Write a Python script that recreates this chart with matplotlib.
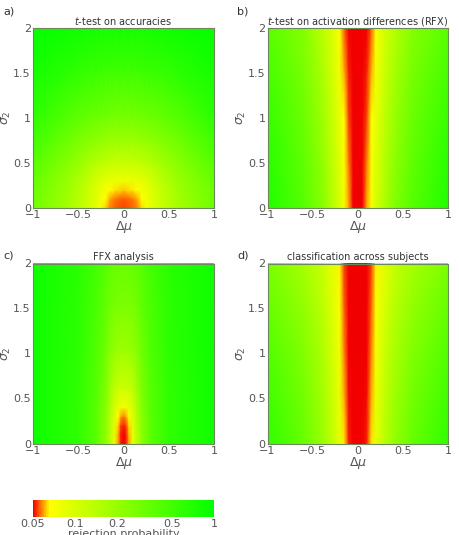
import numpy as np
import matplotlib
matplotlib.use("Agg")
import matplotlib.pyplot as plt
from matplotlib.colors import LinearSegmentedColormap, LogNorm

plt.rcParams['font.family'] = ['DejaVu Sans']
plt.rcParams['mathtext.fontset'] = 'dejavusans'

# ---------------- data: rejection probability (half grid, mu >= 0; mirrored) -------------
# a) t-test on accuracies
mu_a = [0, 0.1, 0.15, 0.2, 0.25, 0.3, 0.4, 0.6, 1.0]
sig_a = [0, 0.1, 0.2, 0.3, 0.5, 0.75, 1.0, 1.5, 2.0]
p_a = [
    [0.054, 0.056, 0.058, 0.063, 0.072, 0.085, 0.11, 0.17, 0.30],
    [0.055, 0.057, 0.060, 0.066, 0.075, 0.088, 0.115, 0.175, 0.31],
    [0.062, 0.064, 0.067, 0.072, 0.080, 0.093, 0.12, 0.18, 0.32],
    [0.078, 0.080, 0.082, 0.086, 0.093, 0.10, 0.13, 0.19, 0.34],
    [0.12, 0.12, 0.125, 0.13, 0.135, 0.145, 0.17, 0.23, 0.40],
    [0.19, 0.19, 0.195, 0.20, 0.21, 0.22, 0.24, 0.30, 0.50],
    [0.28, 0.28, 0.285, 0.29, 0.30, 0.31, 0.33, 0.40, 0.62],
    [0.50, 0.50, 0.50, 0.51, 0.52, 0.53, 0.55, 0.62, 0.80],
    [0.80, 0.80, 0.80, 0.80, 0.80, 0.81, 0.82, 0.86, 0.95],
]

# b) t-test on activation differences (RFX)
mu_b = [0, 0.05, 0.1, 0.15, 0.2, 0.3, 0.4, 0.6, 1.0]
sig_b = [0, 0.5, 1.0, 1.5, 2.0]
p_b = [
    [0.05, 0.05, 0.060, 0.075, 0.100, 0.16, 0.24, 0.40, 0.72],
    [0.05, 0.05, 0.057, 0.071, 0.092, 0.145, 0.215, 0.36, 0.65],
    [0.05, 0.05, 0.054, 0.066, 0.083, 0.13, 0.19, 0.32, 0.56],
    [0.05, 0.05, 0.052, 0.061, 0.075, 0.117, 0.165, 0.28, 0.47],
    [0.05, 0.05, 0.050, 0.056, 0.068, 0.105, 0.14, 0.24, 0.38],
]

# c) FFX analysis
mu_c = [0, 0.03, 0.06, 0.1, 0.15, 0.2, 0.3, 0.5, 1.0]
sig_c = [0, 0.1, 0.2, 0.3, 0.4, 0.6, 1.0, 1.5, 2.0]
p_c = [
    [0.050, 0.052, 0.060, 0.085, 0.14, 0.22, 0.38, 0.60, 0.85],
    [0.050, 0.052, 0.061, 0.087, 0.14, 0.22, 0.38, 0.60, 0.85],
    [0.052, 0.054, 0.063, 0.090, 0.145, 0.22, 0.38, 0.60, 0.85],
    [0.057, 0.060, 0.068, 0.095, 0.15, 0.23, 0.38, 0.60, 0.85],
    [0.075, 0.077, 0.085, 0.105, 0.16, 0.24, 0.39, 0.60, 0.85],
    [0.11, 0.11, 0.115, 0.13, 0.18, 0.26, 0.40, 0.60, 0.85],
    [0.18, 0.18, 0.185, 0.20, 0.23, 0.30, 0.42, 0.62, 0.85],
    [0.26, 0.26, 0.265, 0.27, 0.30, 0.35, 0.45, 0.63, 0.85],
    [0.33, 0.33, 0.335, 0.34, 0.36, 0.40, 0.48, 0.65, 0.85],
]

# d) classification across subjects
mu_d = [0, 0.05, 0.1, 0.15, 0.2, 0.3, 0.4, 0.6, 1.0]
sig_d = [0, 0.5, 1.0, 1.5, 2.0]
p_d = [
    [0.05, 0.05, 0.052, 0.064, 0.085, 0.14, 0.20, 0.33, 0.60],
    [0.05, 0.05, 0.051, 0.061, 0.080, 0.128, 0.18, 0.29, 0.51],
    [0.05, 0.05, 0.050, 0.058, 0.075, 0.115, 0.16, 0.25, 0.42],
    [0.05, 0.05, 0.050, 0.056, 0.070, 0.102, 0.14, 0.21, 0.34],
    [0.05, 0.05, 0.050, 0.054, 0.065, 0.090, 0.12, 0.17, 0.27],
]

titles = [r'$t$-test on accuracies', r'$t$-test on activation differences (RFX)',
          'FFX analysis', 'classification across subjects']
letters = ['a)', 'b)', 'c)', 'd)']
cbar_ticks = [0.05, 0.1, 0.2, 0.5, 1]
cbar_labels = ['0.05', '0.1', '0.2', '0.5', '1']

# ---------------- figure -----------------
W, H = 459, 535
fig = plt.figure(figsize=(W / 100, H / 100), dpi=100)

cmap = LinearSegmentedColormap.from_list(
    'rej', [(0.0, (0.95, 0.0, 0.0)), (0.045, (1.0, 0.5, 0.0)),
            (0.09, (1.0, 1.0, 0.0)), (1.0, (0.0, 1.0, 0.0))])
norm = LogNorm(vmin=0.05, vmax=1.0)

boxes = [(33, 28, 214, 208), (267.5, 28, 448, 208),
         (33, 263.5, 214, 443.5), (267.5, 263.5, 448, 443.5)]
letter_y = [12, 12, 256, 256]
datasets = [(mu_a, sig_a, p_a), (mu_b, sig_b, p_b), (mu_c, sig_c, p_c), (mu_d, sig_d, p_d)]

gray = '#555555'
for (x0, y0, x1, y1), ly, (mu, sig, p), ttl, let in zip(boxes, letter_y, datasets, titles, letters):
    ax = fig.add_axes([x0 / W, 1 - y1 / H, (x1 - x0) / W, (y1 - y0) / H])
    mu = np.asarray(mu, float)
    sig = np.asarray(sig, float)
    P = np.asarray(p, float)
    mu_full = np.concatenate([-mu[:0:-1], mu])
    P_full = np.concatenate([P[:, :0:-1], P], axis=1)
    X, Y = np.meshgrid(mu_full, sig)
    ax.pcolormesh(X, Y, P_full, shading='gouraud', cmap=cmap, norm=norm, rasterized=True)
    ax.set_xlim(-1, 1)
    ax.set_ylim(0, 2)
    ax.set_xticks([-1, -0.5, 0, 0.5, 1])
    ax.set_xticklabels(['\u22121', '\u22120.5', '0', '0.5', '1'])
    ax.set_yticks([0, 0.5, 1, 1.5, 2])
    ax.set_yticklabels(['0', '0.5', '1', '1.5', '2'])
    ax.tick_params(length=0, labelsize=8, labelcolor=gray, pad=1.5)
    for s in ax.spines.values():
        s.set_color('#6a8a5a')
        s.set_linewidth(0.8)
    ax.set_xlabel(r'$\Delta\mu$', fontsize=9, color=gray, labelpad=-0.5)
    ax.set_ylabel(r'$\sigma_2$', fontsize=9, color=gray, labelpad=0)
    ax.set_title(ttl, fontsize=7, color='#333333', pad=2.5)
    fig.text((x0 - 30) / W, 1 - ly / H, let, fontsize=8, color='#333333',
             ha='left', va='center')

# colorbar
cax = fig.add_axes([33 / W, 1 - 517 / H, 181 / W, 17.5 / H])
sm = matplotlib.cm.ScalarMappable(norm=norm, cmap=cmap)
cb = fig.colorbar(sm, cax=cax, orientation='horizontal')
cb.outline.set_visible(False)
cb.set_ticks(cbar_ticks)
cb.set_ticklabels(cbar_labels)
cb.ax.minorticks_off()
cax.tick_params(length=0, labelsize=8, labelcolor=gray, pad=1.5)
cb.set_label('rejection probability', fontsize=8, color=gray, labelpad=0)

fig.savefig('out.png', dpi=100)
